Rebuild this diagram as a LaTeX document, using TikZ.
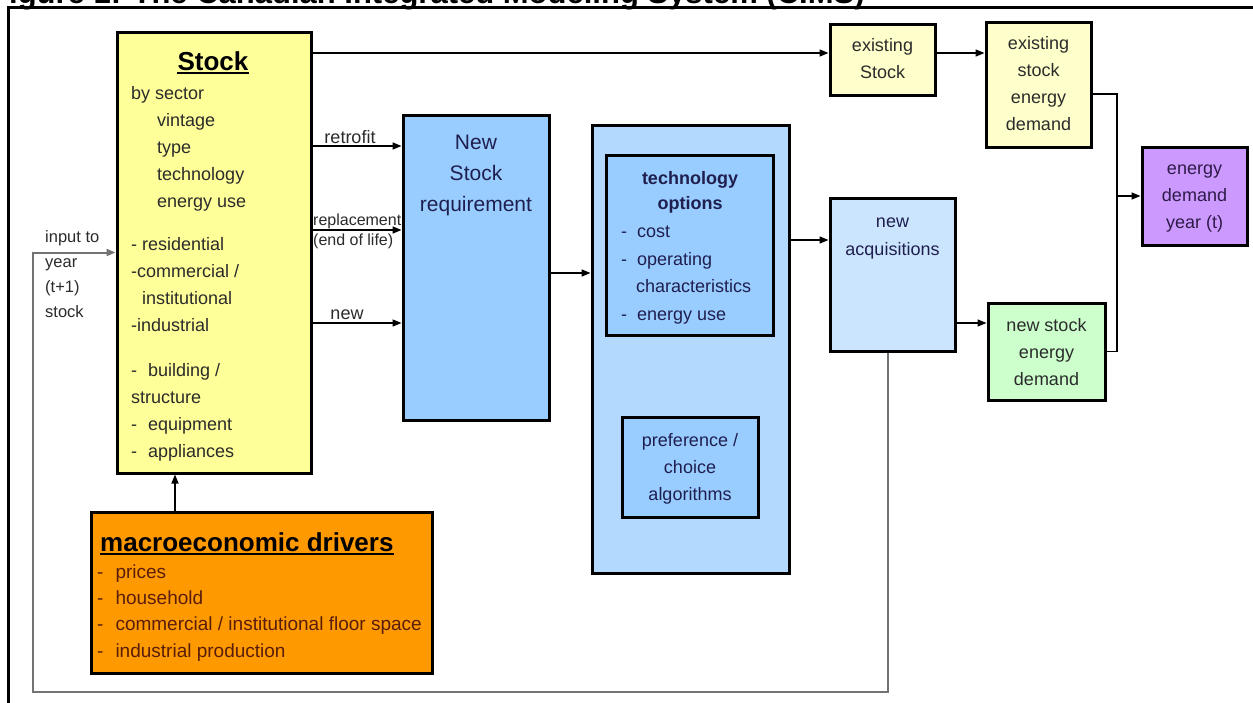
\documentclass[tikz,border=0pt]{standalone}
\usepackage{fontspec}
\setmainfont{Liberation Sans}
\usetikzlibrary{arrows.meta}

\definecolor{stockyellow}{HTML}{FFFF99}
\definecolor{paleyellow}{HTML}{FFFFCC}
\definecolor{reqblue}{HTML}{99CCFF}
\definecolor{techblue}{HTML}{B3D9FF}
\definecolor{acqblue}{HTML}{CCE5FF}
\definecolor{palegreen}{HTML}{CCFFCC}
\definecolor{lilac}{HTML}{CC99FF}
\definecolor{drivers}{HTML}{FF9900}
\definecolor{navytext}{HTML}{1F1F4F}
\definecolor{darktext}{HTML}{2B2B2B}
\definecolor{browntext}{HTML}{5A1E0A}
\definecolor{purpletext}{HTML}{2E1A48}

\tikzset{
  block/.style={draw=black, line width=3pt, inner sep=0pt},
  txt/.style={inner sep=0pt, font=\fontsize{18}{27}\selectfont, text=darktext},
  arr/.style={line width=1.5pt, -{Triangle[length=9pt,width=7pt]}},
  link/.style={line width=1.5pt},
  feedback/.style={line width=2pt, draw=gray!90!black, -{Triangle[length=9pt,width=7pt]}},
  ul/.style={line width=1.6pt}
}

\begin{document}
\begin{tikzpicture}[x=1pt, y=-1pt]
  \useasboundingbox (0,0) rectangle (1253,702);
  \clip (0,0) rectangle (1253,702);
  \fill[white] (0,0) rectangle (1253,702);

  % title, cut off by the top edge
  \node[anchor=base west, inner sep=0pt, font=\fontsize{31}{31}\selectfont\bfseries] (title) at (-10,3.5) {Figure 1: The Canadian Integrated Modeling System (CIMS)};
  \draw[line width=3pt] (8,710) |- (1260,7.5);

  % boxes
  \node[block, fill=stockyellow, minimum width=194, minimum height=441] (stock) at (214,252.5) {};
  \node[block, fill=reqblue, minimum width=146, minimum height=305] (newreq) at (476,267.5) {};
  \node[block, fill=techblue, minimum width=197, minimum height=448] (tech) at (690.5,349) {};
  \node[block, fill=reqblue, minimum width=167, minimum height=180] (techopt) at (689.5,245) {};
  \node[block, fill=reqblue, minimum width=136, minimum height=100] (pref) at (690,467) {};
  \node[block, fill=acqblue, minimum width=125, minimum height=153] (newacq) at (892.5,274.5) {};
  \node[block, fill=paleyellow, minimum width=105, minimum height=71] (exstock) at (882.5,59.5) {};
  \node[block, fill=paleyellow, minimum width=105, minimum height=125] (exdemand) at (1038.5,84.5) {};
  \node[block, fill=lilac, minimum width=105, minimum height=98] (demand) at (1194.5,196) {};
  \node[block, fill=palegreen, minimum width=117, minimum height=97] (newdemand) at (1046.5,351.5) {};
  \node[block, fill=drivers, minimum width=341, minimum height=161] (macro) at (261.5,592.5) {};

  % texts in the boxes
  \node[txt, anchor=base, text=black, font=\fontsize{26}{30}\selectfont\bfseries] (stocktitle) at (213,70) {Stock};
  \draw[ul] ([yshift=-3pt]stocktitle.base west) -- ([yshift=-3pt]stocktitle.base east);
  \node[txt, anchor=north west, align=left] (stocklist) at (131,80.1) {\strut by sector\\
    \hspace*{26pt}vintage\\ \hspace*{26pt}type\\ \hspace*{26pt}technology\\ \hspace*{26pt}energy use\\[16pt]
    - residential\\ -commercial /\\ \hspace*{11pt}institutional\\ -industrial\\[18pt]
    -\hspace{11pt}building /\\ structure\\ -\hspace{11pt}equipment\\ -\hspace{11pt}appliances};
  \node[txt, anchor=north, align=center, text=navytext, font=\fontsize{21}{31}\selectfont] (newreqlbl) at (476,127.8) {\strut New\\Stock\\requirement};
  \node[txt, anchor=north, align=center, text=navytext, font=\fontsize{18}{25}\selectfont\bfseries] (techtitle) at (690,167) {\strut technology\\options};
  \node[txt, anchor=north west, align=left, text=navytext, font=\fontsize{18}{27.5}\selectfont] (techlist) at (621,218.25) {\strut -\hspace{10pt}cost\\
    -\hspace{10pt}operating\\ \hspace*{15pt}characteristics\\ -\hspace{10pt}energy use};
  \node[txt, anchor=north, align=center, text=navytext] (preflbl) at (690,427.6) {\strut preference /\\choice\\algorithms};
  \node[txt, anchor=north, align=center, text=navytext, font=\fontsize{18}{27.5}\selectfont] (newacqlbl) at (892.5,208.25) {\strut new\\acquisitions};
  \node[txt, anchor=north, align=center] (exstocklbl) at (882.5,32.75) {\strut existing\\Stock};
  \node[txt, anchor=north, align=center] (exdemandlbl) at (1038.5,30.6) {\strut existing\\stock\\energy\\demand};
  \node[txt, anchor=north, align=center, text=purpletext] (demandlbl) at (1194.5,155.6) {\strut energy\\demand\\year (t)};
  \node[txt, anchor=north, align=center] (newdemandlbl) at (1046.5,312.1) {\strut new stock\\energy\\demand};
  \node[txt, anchor=base west, text=black, font=\fontsize{26}{30}\selectfont\bfseries] (macrotitle) at (100,551) {macroeconomic drivers};
  \draw[ul] ([yshift=-3pt]macrotitle.base west) -- ([yshift=-3pt]macrotitle.base east);
  \node[txt, anchor=north west, align=left, text=browntext, font=\fontsize{19}{26.3}\selectfont] (macrolist) at (97,559.6) {\strut -\hspace{12pt}prices\\
    -\hspace{12pt}household\\ -\hspace{12pt}commercial / institutional floor space\\ -\hspace{12pt}industrial production};

  % flow labels
  \node[txt, anchor=north west, align=left, font=\fontsize{16.5}{25}\selectfont] (inputlbl) at (45,224.5) {\strut input to\\year\\(t+1)\\stock};
  \node[txt, anchor=base] (retrofitlbl) at (350,143) {retrofit};
  \node[txt, anchor=north west, align=left, font=\fontsize{16}{20}\selectfont] (replacelbl) at (313,211) {\strut replacement\\(end of life)};
  \node[txt, anchor=base] (newlbl) at (347,319) {new};

  % connectors
  \draw[arr] (stock.east |- 0,53) -- (exstock.west |- 0,53);
  \draw[arr] (exstock.east |- 0,53) -- (exdemand.west |- 0,53);
  \coordinate (merge) at (1117,196);
  \draw[link] (exdemand.east |- 0,94) -| (merge) |- (newdemand.east);
  \draw[arr] (merge) -- (demand.west);
  \foreach \ypos in {146,230,323}
    \draw[arr] (stock.east |- 0,\ypos) -- (newreq.west |- 0,\ypos);
  \draw[arr] (newreq.east |- 0,273) -- (tech.west |- 0,273);
  \draw[arr] (tech.east |- 0,240) -- (newacq.west |- 0,240);
  \draw[arr] (newacq.east |- 0,323) -- (newdemand.west |- 0,323);
  \draw[arr] (macro.north -| 175,0) -- (stock.south -| 175,0);
  \coordinate (loop) at (33,692);
  \draw[feedback] (newacq.south -| 888,0) |- (loop) |- (stock.west);
\end{tikzpicture}
\end{document}
